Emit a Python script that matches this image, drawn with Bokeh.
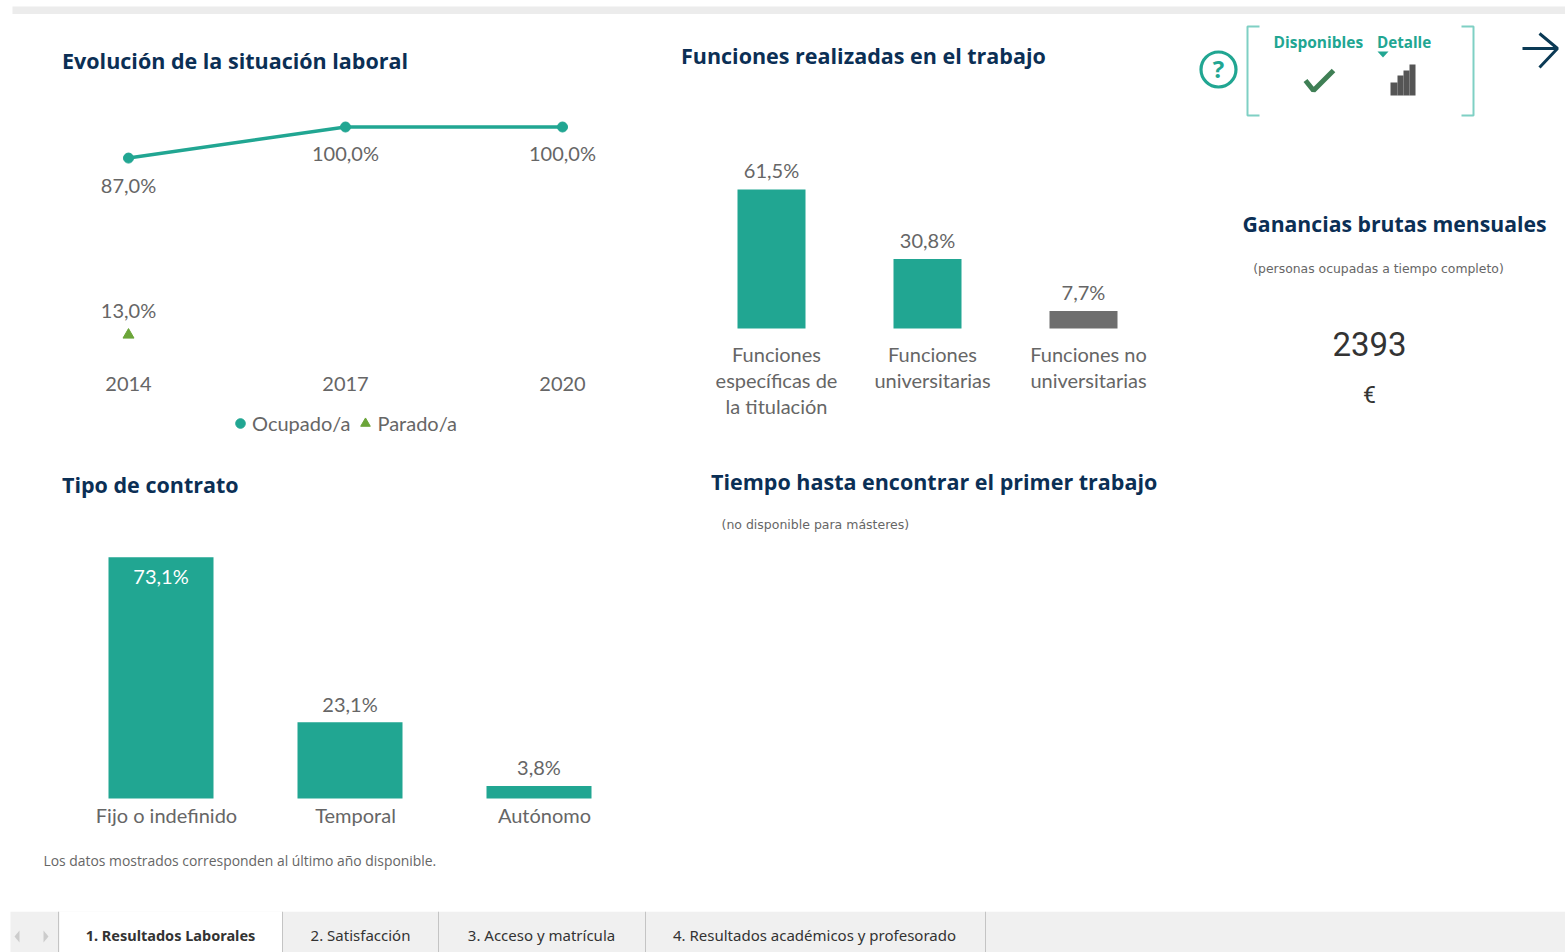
from bokeh.plotting import figure
from bokeh.layouts import column, row
from bokeh.models import (Range1d, Label, Legend, LegendItem, FixedTicker, ColumnDataSource)
from bokeh.core.properties import value
from bokeh.embed import file_html
from bokeh.resources import INLINE

# ---- data ----
years = [2014, 2017, 2020]
ocupado = [87.0, 100.0, 100.0]
parado_years = [2014]
parado = [13.0]

funciones = ["Funciones\nespecíficas de\nla titulación", "Funciones\nuniversitarias", "Funciones no\nuniversitarias"]
funciones_pct = [61.5, 30.8, 7.7]
funciones_colors = ["#21a692", "#21a692", "#6e6e6e"]

contratos = ["Fijo o indefinido", "Temporal", "Autónomo"]
contratos_pct = [73.1, 23.1, 3.8]

ganancias = "2393"
tabs = ["1. Resultados Laborales", "2. Satisfacción", "3. Acceso y matrícula", "4. Resultados académicos y profesorado"]

TEAL = "#21a692"
GREEN = "#6ba539"
GREY = "#666666"
NAVY = "#0b2f55"
FONT = "Open Sans"
CHART_FONT = "Lato"
CHART_SIZE = "20px"
TITLE_SIZE = "21.5px"

def fmt(v):
    return f"{v:.1f}%".replace(".", ",")

def panel(left, top, w, h, x0=None, sx=1.0, y0=None, sy=1.0, axis=False):
    """Figure covering a page rectangle; x0/y0 = page pixel of data 0."""
    if x0 is None:
        x_range = Range1d(left, left + w)
    else:
        x_range = Range1d((left - x0) / sx, (left + w - x0) / sx)
    if y0 is None:
        y_range = Range1d(top + h, top)
    else:
        y_range = Range1d((y0 - top - h) / sy, (y0 - top) / sy)
    p = figure(width=w, height=h, x_range=x_range, y_range=y_range,
               output_backend="svg", toolbar_location=None,
               x_axis_location="below" if axis else None, y_axis_location=None,
               min_border=0, outline_line_color=None, background_fill_color="white",
               border_fill_color="white")
    p.grid.visible = False
    p._box = (left, top, w, h)
    return p

def style_axis(p, ticks, overrides, standoff):
    ax = p.xaxis[0]
    ax.ticker = FixedTicker(ticks=ticks)
    ax.major_label_overrides = overrides
    ax.fixed_location = 0
    ax.axis_line_color = None
    ax.major_tick_line_color = None
    ax.minor_tick_line_color = None
    ax.major_label_standoff = standoff
    ax.major_label_text_font = CHART_FONT
    ax.major_label_text_font_size = CHART_SIZE
    ax.major_label_text_color = GREY
    ax.major_label_text_line_height = 1.1

def label(p, px, py, text, size, color=GREY, bold=False, align="left", font=FONT):
    left, top, w, h = p._box
    p.add_layout(Label(x=px - left, y=top + h - py, x_units="screen", y_units="screen", text=text,
                       text_font=font, text_font_size=size, text_color=color,
                       text_font_style="bold" if bold else "normal",
                       text_align=align, text_baseline="middle"))

def data_text(p, x, y, labels, offs, color=GREY):
    src = ColumnDataSource(dict(x=x, y=y, t=labels, o=offs, c=color if isinstance(color, list) else [color] * len(x)))
    p.text(x="x", y="y", text="t", y_offset="o", source=src, text_align="center", text_baseline="middle",
           text_font=value(CHART_FONT), text_font_size=CHART_SIZE, text_color="c")

# ---- top band ----
band = panel(0, 0, 1565, 14)
band.quad(left=[12], right=[1565], top=[6], bottom=[14], fill_color="#ececec", line_color=None)

# ---- Evolución ----
f1 = panel(0, 14, 640, 431, x0=128 - 2014 * 217 / 3, sx=217 / 3, y0=365.5, sy=2.39, axis=True)
style_axis(f1, years, {y: str(y) for y in years}, 5)
f1.line(years, ocupado, line_color=TEAL, line_width=3.5)
r_oc = f1.scatter(years, ocupado, marker="circle", size=10, fill_color=TEAL, line_color=TEAL)
r_pa = f1.scatter(parado_years, parado, marker="triangle", size=11, fill_color=GREEN, line_color=GREEN)
data_text(f1, years, ocupado, [fmt(v) for v in ocupado], [27, 25.5, 25.5])
data_text(f1, parado_years, parado, [fmt(v) for v in parado], [-25])
leg = Legend(items=[LegendItem(label="Ocupado/a", renderers=[r_oc]), LegendItem(label="Parado/a", renderers=[r_pa])],
             orientation="horizontal", location=(228, 9), padding=0, margin=0, spacing=3,
             glyph_width=24, glyph_height=26, label_standoff=0, border_line_color=None,
             background_fill_alpha=0, label_text_font=CHART_FONT, label_text_font_size=CHART_SIZE,
             label_text_color=GREY)
f1.add_layout(leg)
label(f1, 61.5, 59.5, "Evolución de la situación laboral", TITLE_SIZE, NAVY, True)

# ---- Tipo de contrato ----
f2 = panel(0, 445, 640, 466, x0=166, sx=189, y0=798, sy=3.30, axis=True)
idx = list(range(len(contratos)))
style_axis(f2, idx, dict(zip(idx, contratos)), -2)
bar_shift2 = -5.5 / 189
f2.vbar(x=[i + bar_shift2 for i in idx], top=contratos_pct, bottom=0, width=105 / 189, fill_color=TEAL, line_color=None)
data_text(f2, [i + bar_shift2 for i in idx], contratos_pct, [fmt(v) for v in contratos_pct], [19, -18, -19],
          color=["white", GREY, GREY])
label(f2, 61.5, 483.5, "Tipo de contrato", TITLE_SIZE, NAVY, True)
label(f2, 43, 860, "Los datos mostrados corresponden al último año disponible.", "13.9px")

# ---- Funciones ----
f3 = panel(640, 14, 550, 431, x0=776, sx=156, y0=328, sy=2.26, axis=True)
idx3 = list(range(len(funciones)))
style_axis(f3, idx3, dict(zip(idx3, funciones)), 7)
bar_shift3 = -5 / 156
f3.vbar(x=[i + bar_shift3 for i in idx3], top=funciones_pct, bottom=0, width=68 / 156,
        fill_color=funciones_colors, line_color=None)
data_text(f3, [i + bar_shift3 for i in idx3], funciones_pct, [fmt(v) for v in funciones_pct], [-19.5, -19, -19.5])
label(f3, 680.5, 54.5, "Funciones realizadas en el trabajo", TITLE_SIZE, NAVY, True)

# ---- Tiempo (sin datos) ----
f4 = panel(640, 445, 550, 466)
f4.scatter([], [])
label(f4, 710.5, 480.5, "Tiempo hasta encontrar el primer trabajo", TITLE_SIZE, NAVY, True)
label(f4, 721, 524, "(no disponible para másteres)", "12.5px", GREY, False, "left", "DejaVu Sans")

# ---- Columna derecha ----
f5 = panel(1190, 14, 375, 897)
bracket_x = [[1259, 1247, 1247, 1259], [1461, 1473, 1473, 1461]]
bracket_y = [[26, 26, 115, 115], [26, 26, 115, 115]]
f5.multi_line(bracket_x, bracket_y, line_color="#7fd0c4", line_width=2)
f5.scatter([1218], [69], marker="circle", size=35, fill_color=None, line_color=TEAL, line_width=3.2)
label(f5, 1218, 68, "?", "24px", TEAL, True, "center")
label(f5, 1273, 41, "Disponibles", "15.5px", TEAL, True)
label(f5, 1376.5, 41, "Detalle", "15.2px", TEAL, True)
f5.patch([1377, 1388, 1382.5], [51, 51, 57], fill_color=TEAL, line_color=None)
f5.line([1305, 1313, 1333], [80, 90, 70], line_color="#3f7f55", line_width=5)
f5.quad(left=[1390, 1397, 1403, 1409], right=[1397, 1403, 1409, 1415], top=[82, 75, 70, 64],
        bottom=[95, 95, 95, 95], fill_color="#555555", line_color=None)
f5.multi_line([[1522, 1557], [1539, 1557, 1539]], [[48, 48], [33, 48, 67]], line_color="#0b3a55", line_width=3)
label(f5, 1394, 223, "Ganancias brutas mensuales", "21.2px", NAVY, True, "center")
label(f5, 1378, 268, "(personas ocupadas a tiempo completo)", "12.4px", GREY, False, "center", "DejaVu Sans")
label(f5, 1369, 343, ganancias, "33px", "#333333", False, "center", "Roboto")
label(f5, 1369, 395, "€", "23px", "#333333", False, "center", "Roboto")

# ---- Pestañas ----
tb = panel(0, 911, 1565, 41)
tb.quad(left=[10], right=[1565], top=[911], bottom=[952], fill_color="#f0f0f0", line_color=None)
tb.quad(left=[59], right=[282], top=[911], bottom=[952], fill_color="white", line_color=None)
sep_x = [58, 282, 438, 645, 985]
tb.multi_line([[x, x] for x in sep_x], [[911, 952] for _ in sep_x], line_color="#c4c4c4", line_width=1)
tb.patch([19, 19, 14], [930, 942, 936], fill_color="#cccccc", line_color=None)
tb.patch([43, 43, 48], [930, 942, 936], fill_color="#cccccc", line_color=None)
for cx, t, b, sz in zip([170, 360, 541, 814], tabs, [True, False, False, False], ["14.5px", "15px", "15px", "15px"]):
    label(tb, cx, 934, t, sz, "#333333", b, "center", "Noto Sans")

layout = column(band, row(column(f1, f2, spacing=0), column(f3, f4, spacing=0), f5, spacing=0), tb, spacing=0)

open("out.html", "w").write(file_html(layout, INLINE))
